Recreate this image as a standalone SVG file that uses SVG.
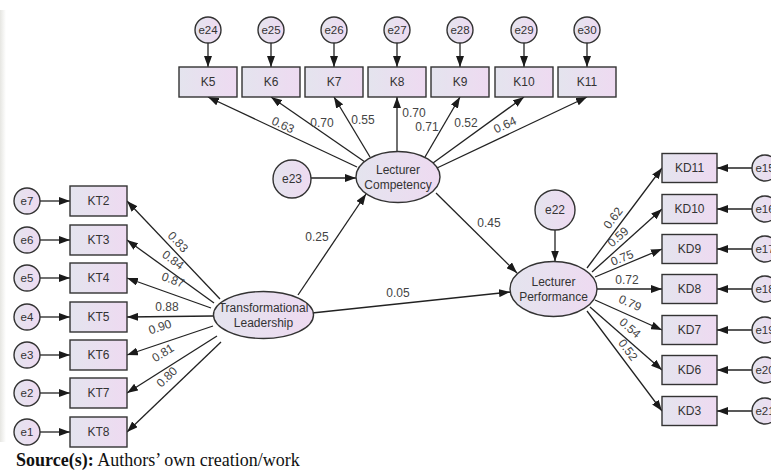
<svg xmlns="http://www.w3.org/2000/svg" width="771" height="473" viewBox="0 0 771 473">
<defs>
<linearGradient id="g" x1="0" y1="0" x2="1" y2="0">
<stop offset="0" stop-color="#e4e4ee"/>
<stop offset="1" stop-color="#eedaf1"/>
</linearGradient>
<linearGradient id="band" x1="0" y1="0" x2="1" y2="0">
<stop offset="0" stop-color="#e6e6e2"/>
<stop offset="1" stop-color="#ffffff"/>
</linearGradient>
<marker id="a" markerUnits="userSpaceOnUse" markerWidth="11" markerHeight="8" refX="11" refY="4" orient="auto">
<path d="M0,0 L11,4 L0,8 z" fill="#1a1a1a"/>
</marker>
<style>
.n{fill:url(#g);stroke:#333;stroke-width:1.4}
.t{font-family:"Liberation Sans",Arial,sans-serif;font-size:12px;fill:#333;text-anchor:middle}
.e{font-family:"Liberation Sans",Arial,sans-serif;font-size:11.5px;fill:#333;text-anchor:middle}
.l{font-family:"Liberation Sans",Arial,sans-serif;font-size:12px;fill:#444;text-anchor:middle}
.c line{stroke:#222;stroke-width:1.3;marker-end:url(#a)}
</style>
</defs>
<rect width="771" height="473" fill="#fff"/>
<rect x="0" y="10" width="6" height="432" fill="url(#band)"/>

<g class="c" id="connectors">
<line x1="208" y1="43" x2="208" y2="67"/>
<line x1="271" y1="43" x2="271" y2="67"/>
<line x1="334" y1="43" x2="334" y2="67"/>
<line x1="397" y1="43" x2="397" y2="67"/>
<line x1="460" y1="43" x2="460" y2="67"/>
<line x1="524" y1="43" x2="524" y2="67"/>
<line x1="587" y1="43" x2="587" y2="67"/>
<line x1="357" y1="167" x2="208" y2="97"/>
<line x1="365" y1="162" x2="271" y2="97"/>
<line x1="370" y1="157" x2="334" y2="97"/>
<line x1="397" y1="152" x2="397" y2="97"/>
<line x1="425" y1="157" x2="460" y2="97"/>
<line x1="433" y1="163" x2="524" y2="97"/>
<line x1="437" y1="168" x2="587" y2="97"/>
<line x1="40" y1="201" x2="70" y2="201"/>
<line x1="40" y1="240" x2="70" y2="240"/>
<line x1="40" y1="278" x2="70" y2="278"/>
<line x1="40" y1="317" x2="70" y2="317"/>
<line x1="40" y1="355" x2="70" y2="355"/>
<line x1="40" y1="393" x2="70" y2="393"/>
<line x1="40" y1="432" x2="70" y2="432"/>
<line x1="220" y1="299" x2="127" y2="201"/>
<line x1="214" y1="303" x2="127" y2="240"/>
<line x1="211" y1="308" x2="127" y2="278"/>
<line x1="213" y1="316" x2="127" y2="317"/>
<line x1="213" y1="326" x2="127" y2="355"/>
<line x1="217" y1="336" x2="127" y2="393"/>
<line x1="221" y1="342" x2="127" y2="432"/>
<line x1="587" y1="268" x2="662" y2="168"/>
<line x1="592" y1="272" x2="662" y2="209"/>
<line x1="595" y1="277" x2="662" y2="249"/>
<line x1="597" y1="289" x2="662" y2="289"/>
<line x1="595" y1="300" x2="662" y2="330"/>
<line x1="590" y1="307" x2="662" y2="370"/>
<line x1="587" y1="311" x2="662" y2="411"/>
<line x1="752" y1="168" x2="717" y2="168"/>
<line x1="752" y1="209" x2="717" y2="209"/>
<line x1="752" y1="249" x2="717" y2="249"/>
<line x1="752" y1="289" x2="717" y2="289"/>
<line x1="752" y1="330" x2="717" y2="330"/>
<line x1="752" y1="370" x2="717" y2="370"/>
<line x1="752" y1="411" x2="717" y2="411"/>
<line x1="298" y1="295" x2="366" y2="194"/>
<line x1="312" y1="313" x2="510" y2="292"/>
<line x1="436" y1="193" x2="517" y2="273"/>
<line x1="311" y1="178" x2="356" y2="178"/>
<line x1="555" y1="230" x2="555" y2="261.5"/>
</g>

<g id="labels">
<text class="l" x="283" y="129" transform="rotate(25 283 125)">0.63</text>
<text class="l" x="322" y="127">0.70</text>
<text class="l" x="363" y="124">0.55</text>
<text class="l" x="414" y="117">0.70</text>
<text class="l" x="427" y="131">0.71</text>
<text class="l" x="466" y="127">0.52</text>
<text class="l" x="505" y="129" transform="rotate(-25 505 125)">0.64</text>
<text class="l" x="178" y="246" transform="rotate(47 178 242)">0.83</text>
<text class="l" x="173" y="264" transform="rotate(36 173 260)">0.84</text>
<text class="l" x="173" y="284" transform="rotate(20 173 280)">0.87</text>
<text class="l" x="167" y="311">0.88</text>
<text class="l" x="160" y="331" transform="rotate(-19 160 327)">0.90</text>
<text class="l" x="163" y="357" transform="rotate(-32 163 353)">0.81</text>
<text class="l" x="167" y="381" transform="rotate(-44 167 377)">0.80</text>
<text class="l" x="613" y="222" transform="rotate(-53 613 218)">0.62</text>
<text class="l" x="618" y="241" transform="rotate(-42 618 237)">0.59</text>
<text class="l" x="622" y="262" transform="rotate(-22 622 258)">0.75</text>
<text class="l" x="627" y="284">0.72</text>
<text class="l" x="630" y="307" transform="rotate(24 630 303)">0.79</text>
<text class="l" x="630" y="332" transform="rotate(41 630 328)">0.54</text>
<text class="l" x="628" y="354" transform="rotate(53 628 350)">0.52</text>
<text class="l" x="317" y="241">0.25</text>
<text class="l" x="489" y="227">0.45</text>
<text class="l" x="398" y="297">0.05</text>
</g>

<g id="e24"><circle class="n" cx="208" cy="30" r="13"/><text class="e" x="208" y="34">e24</text></g>
<g id="e25"><circle class="n" cx="271" cy="30" r="13"/><text class="e" x="271" y="34">e25</text></g>
<g id="e26"><circle class="n" cx="334" cy="30" r="13"/><text class="e" x="334" y="34">e26</text></g>
<g id="e27"><circle class="n" cx="397" cy="30" r="13"/><text class="e" x="397" y="34">e27</text></g>
<g id="e28"><circle class="n" cx="460" cy="30" r="13"/><text class="e" x="460" y="34">e28</text></g>
<g id="e29"><circle class="n" cx="524" cy="30" r="13"/><text class="e" x="524" y="34">e29</text></g>
<g id="e30"><circle class="n" cx="587" cy="30" r="13"/><text class="e" x="587" y="34">e30</text></g>

<g id="K5"><rect class="n" x="179" y="67" width="58" height="30"/><text class="t" x="208" y="86">K5</text></g>
<g id="K6"><rect class="n" x="242" y="67" width="58" height="30"/><text class="t" x="271" y="86">K6</text></g>
<g id="K7"><rect class="n" x="305" y="67" width="58" height="30"/><text class="t" x="334" y="86">K7</text></g>
<g id="K8"><rect class="n" x="368" y="67" width="58" height="30"/><text class="t" x="397" y="86">K8</text></g>
<g id="K9"><rect class="n" x="431" y="67" width="58" height="30"/><text class="t" x="460" y="86">K9</text></g>
<g id="K10"><rect class="n" x="495" y="67" width="58" height="30"/><text class="t" x="524" y="86">K10</text></g>
<g id="K11"><rect class="n" x="558" y="67" width="58" height="30"/><text class="t" x="587" y="86">K11</text></g>

<g id="e7"><circle class="n" cx="27" cy="201" r="13"/><text class="e" x="27" y="205">e7</text></g>
<g id="e6"><circle class="n" cx="27" cy="240" r="13"/><text class="e" x="27" y="244">e6</text></g>
<g id="e5"><circle class="n" cx="27" cy="278" r="13"/><text class="e" x="27" y="282">e5</text></g>
<g id="e4"><circle class="n" cx="27" cy="317" r="13"/><text class="e" x="27" y="321">e4</text></g>
<g id="e3"><circle class="n" cx="27" cy="355" r="13"/><text class="e" x="27" y="359">e3</text></g>
<g id="e2"><circle class="n" cx="27" cy="393" r="13"/><text class="e" x="27" y="397">e2</text></g>
<g id="e1"><circle class="n" cx="27" cy="432" r="13"/><text class="e" x="27" y="436">e1</text></g>

<g id="KT2"><rect class="n" x="70" y="186" width="57" height="30"/><text class="t" x="98.5" y="205">KT2</text></g>
<g id="KT3"><rect class="n" x="70" y="225" width="57" height="30"/><text class="t" x="98.5" y="244">KT3</text></g>
<g id="KT4"><rect class="n" x="70" y="263" width="57" height="30"/><text class="t" x="98.5" y="282">KT4</text></g>
<g id="KT5"><rect class="n" x="70" y="302" width="57" height="30"/><text class="t" x="98.5" y="321">KT5</text></g>
<g id="KT6"><rect class="n" x="70" y="340" width="57" height="30"/><text class="t" x="98.5" y="359">KT6</text></g>
<g id="KT7"><rect class="n" x="70" y="378" width="57" height="30"/><text class="t" x="98.5" y="397">KT7</text></g>
<g id="KT8"><rect class="n" x="70" y="417" width="57" height="30"/><text class="t" x="98.5" y="436">KT8</text></g>

<g id="KD11"><rect class="n" x="662" y="153.5" width="55" height="29"/><text class="t" x="689.5" y="172">KD11</text></g>
<g id="KD10"><rect class="n" x="662" y="194.5" width="55" height="29"/><text class="t" x="689.5" y="213">KD10</text></g>
<g id="KD9"><rect class="n" x="662" y="234.5" width="55" height="29"/><text class="t" x="689.5" y="253">KD9</text></g>
<g id="KD8"><rect class="n" x="662" y="274.5" width="55" height="29"/><text class="t" x="689.5" y="293">KD8</text></g>
<g id="KD7"><rect class="n" x="662" y="315.5" width="55" height="29"/><text class="t" x="689.5" y="334">KD7</text></g>
<g id="KD6"><rect class="n" x="662" y="355.5" width="55" height="29"/><text class="t" x="689.5" y="374">KD6</text></g>
<g id="KD3"><rect class="n" x="662" y="396.5" width="55" height="29"/><text class="t" x="689.5" y="415">KD3</text></g>

<g id="e15"><circle class="n" cx="765" cy="168" r="13"/><text class="e" x="765" y="172">e15</text></g>
<g id="e16"><circle class="n" cx="765" cy="209" r="13"/><text class="e" x="765" y="213">e16</text></g>
<g id="e17"><circle class="n" cx="765" cy="249" r="13"/><text class="e" x="765" y="253">e17</text></g>
<g id="e18"><circle class="n" cx="765" cy="289" r="13"/><text class="e" x="765" y="293">e18</text></g>
<g id="e19"><circle class="n" cx="765" cy="330" r="13"/><text class="e" x="765" y="334">e19</text></g>
<g id="e20"><circle class="n" cx="765" cy="370" r="13"/><text class="e" x="765" y="374">e20</text></g>
<g id="e21"><circle class="n" cx="765" cy="411" r="13"/><text class="e" x="765" y="415">e21</text></g>

<g id="TL"><ellipse class="n" cx="263.5" cy="315" rx="50" ry="23.5"/><text class="t" x="263.5" y="312">Transformational</text><text class="t" x="263.5" y="327">Leadership</text></g>
<g id="LC"><ellipse class="n" cx="398" cy="177" rx="42" ry="25.5"/><text class="t" x="398" y="174">Lecturer</text><text class="t" x="398" y="189">Competency</text></g>
<g id="LP"><ellipse class="n" cx="553.5" cy="289" rx="43.5" ry="27.5"/><text class="t" x="553.5" y="286">Lecturer</text><text class="t" x="553.5" y="301">Performance</text></g>
<g id="e22"><circle class="n" cx="555" cy="210" r="20"/><text class="t" x="555" y="214">e22</text></g>
<g id="e23"><circle class="n" cx="292" cy="179" r="19"/><text class="t" x="292" y="183">e23</text></g>

<text x="16" y="466" font-family="'Liberation Serif','Times New Roman',serif" font-size="18" fill="#111"><tspan font-weight="bold">Source(s):</tspan> Authors’ own creation/work</text>
</svg>
